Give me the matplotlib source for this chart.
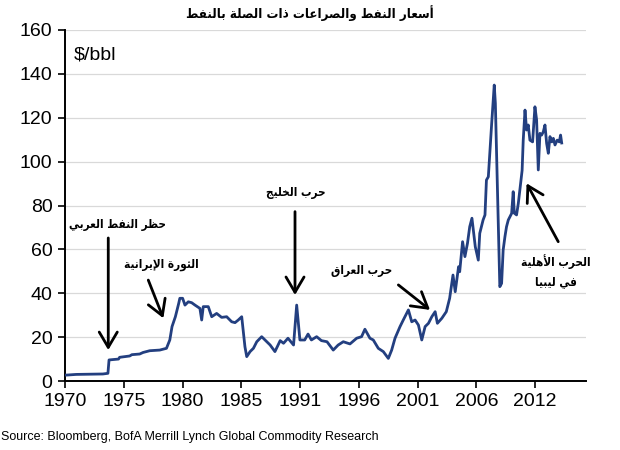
import matplotlib
matplotlib.use("Agg")
import matplotlib.pyplot as plt

# ---------------- data ----------------
years = [1970.0, 1970.15, 1971.0, 1972.5, 1973.4, 1973.85, 1973.95, 1974.8, 1974.9, 1975.8,
         1976.0, 1976.7, 1977.0, 1977.6, 1978.5, 1979.1, 1979.4, 1979.6, 1979.9, 1980.2,
         1980.3, 1980.55, 1980.76, 1981.06, 1981.36, 1981.66, 1982.1, 1982.26, 1982.4, 1982.85,
         1983.16, 1983.6, 1984.05, 1984.5, 1984.95, 1985.25, 1985.54, 1985.85, 1986.14, 1986.3,
         1986.6, 1986.9, 1987.2, 1987.64, 1988.1, 1988.4, 1988.83, 1989.3, 1989.6, 1990.0,
         1990.5, 1990.78, 1991.07, 1991.5, 1991.8, 1992.1, 1992.57, 1993.0, 1993.5, 1994.06,
         1994.5, 1994.96, 1995.56, 1996.16, 1996.6, 1996.9, 1997.35, 1997.65, 1998.1, 1998.55,
         1999.0, 1999.3, 1999.6, 2000.05, 2000.34, 2000.8, 2001.1, 2001.4, 2001.7, 2002.0,
         2002.3, 2002.6, 2002.9, 2003.2, 2003.4, 2003.8, 2004.2, 2004.5, 2004.8, 2005.0,
         2005.3, 2005.4, 2005.66, 2005.87, 2006.1, 2006.3, 2006.5, 2006.8, 2007.07, 2007.2,
         2007.5, 2007.67, 2007.8, 2007.97, 2008.27, 2008.5, 2008.6, 2009.0, 2009.16, 2009.3,
         2009.46, 2009.6, 2009.76, 2010.06, 2010.2, 2010.3, 2010.5, 2010.66, 2011.0, 2011.1,
         2011.26, 2011.4, 2011.55, 2011.7, 2011.94, 2012.15, 2012.3, 2012.45, 2012.6, 2012.75,
         2012.9, 2013.05, 2013.2, 2013.35, 2013.5, 2013.66, 2013.8, 2013.95, 2014.15, 2014.33,
         2014.45, 2014.55]
prices = [2.7, 2.7, 3.0, 3.1, 3.2, 3.5, 9.6, 10.0, 10.8, 11.4,
          12.0, 12.3, 13.0, 13.8, 14.1, 14.9, 18.7, 24.8, 29.3, 35.4,
          37.7, 37.7, 34.6, 36.1, 35.7, 34.6, 33.1, 27.8, 33.9, 33.9,
          29.3, 30.8, 29.0, 29.3, 27.0, 26.6, 27.8, 29.3, 15.6, 11.1,
          13.4, 14.9, 17.9, 20.2, 17.9, 16.4, 13.4, 18.4, 17.2, 19.5,
          16.4, 34.6, 18.7, 18.7, 21.4, 18.7, 20.2, 18.4, 17.9, 14.1,
          16.4, 17.9, 16.9, 19.5, 20.2, 23.6, 19.5, 18.7, 14.9, 13.4,
          10.3, 14.1, 19.5, 24.8, 27.8, 32.4, 27.0, 27.8, 25.5, 18.7,
          24.8, 26.3, 29.3, 31.6, 26.3, 28.6, 31.6, 37.7, 48.3, 40.7,
          52.1, 49.8, 63.5, 56.7, 62.8, 70.3, 74.2, 61.2, 55.1, 67.3,
          73.4, 75.7, 91.6, 93.1, 117.4, 134.9, 126.6, 43.0, 44.5, 59.7,
          65.8, 70.3, 73.4, 76.4, 86.3, 76.5, 75.7, 81.0, 96.0, 109.8,
          123.5, 114.4, 116.7, 109.8, 109.0, 125.0, 119.0, 96.2, 112.9, 112.1,
          113.6, 116.7, 108.3, 103.8, 111.4, 109.0, 110.6, 107.6, 109.8, 109.0,
          112.1, 108.5]

tick_labels = ["1970", "1975", "1980", "1985", "1991", "1996", "2001", "2006", "2012"]
y_ticks = [0, 20, 40, 60, 80, 100, 120, 140, 160]

title = "أسعار النفط والصراعات ذات الصلة بالنفط"
events = ["حظر النفط العربي", "الثورة الإيرانية", "حرب الخليج", "حرب العراق",
          "الحرب الأهلية\nفي ليبيا"]
unit_label = "$/bbl"
source = "Source: Bloomberg, BofA Merrill Lynch Global Commodity Research"

# ---------------- minimal Arabic shaping (presentation forms + RTL) ----------------
DUAL = {0x626: 0xFE89, 0x628: 0xFE8F, 0x62A: 0xFE95, 0x62B: 0xFE99, 0x62C: 0xFE9D,
        0x62D: 0xFEA1, 0x62E: 0xFEA5, 0x633: 0xFEB1, 0x634: 0xFEB5, 0x635: 0xFEB9,
        0x636: 0xFEBD, 0x637: 0xFEC1, 0x638: 0xFEC5, 0x639: 0xFEC9, 0x63A: 0xFECD,
        0x641: 0xFED1, 0x642: 0xFED5, 0x643: 0xFED9, 0x644: 0xFEDD, 0x645: 0xFEE1,
        0x646: 0xFEE5, 0x647: 0xFEE9, 0x64A: 0xFEF1}
RIGHT = {0x622: 0xFE81, 0x623: 0xFE83, 0x624: 0xFE85, 0x625: 0xFE87, 0x627: 0xFE8D,
         0x629: 0xFE93, 0x62F: 0xFEA9, 0x630: 0xFEAB, 0x631: 0xFEAD, 0x632: 0xFEAF,
         0x648: 0xFEED, 0x649: 0xFEEF}
LAMALEF = {0x622: 0xFEF5, 0x623: 0xFEF7, 0x625: 0xFEF9, 0x627: 0xFEFB}


def shape_line(s):
    cs = [ord(c) for c in s]
    n = len(cs)
    out = []
    i = 0
    while i < n:
        c = cs[i]
        prev_j = i > 0 and cs[i - 1] in DUAL
        if c == 0x644 and i + 1 < n and cs[i + 1] in LAMALEF:
            out.append(chr(LAMALEF[cs[i + 1]] + (1 if prev_j else 0)))
            i += 2
            continue
        next_j = i + 1 < n and (cs[i + 1] in DUAL or cs[i + 1] in RIGHT)
        if c in DUAL:
            b = DUAL[c]
            if prev_j and next_j:
                out.append(chr(b + 3))
            elif prev_j:
                out.append(chr(b + 1))
            elif next_j:
                out.append(chr(b + 2))
            else:
                out.append(chr(b))
        elif c in RIGHT:
            out.append(chr(RIGHT[c] + (1 if prev_j else 0)))
        else:
            out.append(chr(c))
        i += 1
    return "".join(reversed(out))


def ar(s):
    return "\n".join(shape_line(line) for line in s.split("\n"))


# ---------------- figure ----------------
plt.rcParams["font.family"] = ["Liberation Sans", "DejaVu Sans"]
fig = plt.figure(figsize=(6.2, 4.5), dpi=100)
ax = fig.add_axes([65 / 620, 1 - 381 / 450, 521 / 620, 351 / 450])

line_color = "#233f80"
ax.plot(years, prices, color=line_color, lw=2.0, solid_joinstyle="round", zorder=3)

tick_step = 5.272
ax.set_xlim(1970, 2016.73)
ax.set_ylim(0, 160)
ax.set_xticks([1970 + i * tick_step for i in range(len(tick_labels))])
ax.set_xticklabels(tick_labels)
ax.set_yticks(y_ticks)
ax.tick_params(axis="both", labelsize=14, length=5, width=1.2, direction="out", color="black")
ax.tick_params(axis="x", pad=4)
ax.tick_params(axis="y", pad=4)

ax.grid(axis="y", color="#d9d9d9", lw=0.9)
ax.set_axisbelow(True)
for s in ("top", "right"):
    ax.spines[s].set_visible(False)
for s in ("left", "bottom"):
    ax.spines[s].set_linewidth(1.4)

ax.text(0.017, 0.93, unit_label, transform=ax.transAxes, fontsize=14, va="center", ha="left")

ar_family = "DejaVu Sans"
fig.text(0.5, 1 - 13 / 450, ar(title), ha="center", va="center", fontsize=9.5,
         fontweight="bold", family=ar_family, fontstretch="condensed")
fig.text(0.002, 1 - 437 / 450, source, ha="left", va="center", fontsize=9)

arrow = dict(arrowstyle="->,head_length=1.1,head_width=0.65", lw=2.0, color="black",
             mutation_scale=10, shrinkA=0, shrinkB=0)
ann_font = dict(fontsize=8.5, fontweight="bold", family=ar_family, fontstretch="condensed",
                ha="center", va="center")

# (text position, arrow start, arrow tip) in data coordinates
ax.text(1974.7, 71.5, ar(events[0]), **ann_font)
ax.annotate("", xy=(1973.88, 14.1), xytext=(1973.88, 65.2), arrowprops=arrow)

ax.text(1978.6, 53.0, ar(events[1]), **ann_font)
ax.annotate("", xy=(1978.82, 28.6), xytext=(1977.47, 46.0), arrowprops=arrow)

ax.text(1990.7, 85.7, ar(events[2]), **ann_font)
ax.annotate("", xy=(1990.63, 39.2), xytext=(1990.63, 77.2), arrowprops=arrow)

ax.text(1996.6, 50.3, ar(events[3]), **ann_font)
ax.annotate("", xy=(2002.74, 32.4), xytext=(1999.9, 43.8), arrowprops=arrow)

ax.text(2014.0, 50.3, ar(events[4]), linespacing=1.6, **ann_font)
ax.annotate("", xy=(2011.4, 90.1), xytext=(2014.24, 63.5), arrowprops=arrow)

fig.savefig("out.png", dpi=100)
